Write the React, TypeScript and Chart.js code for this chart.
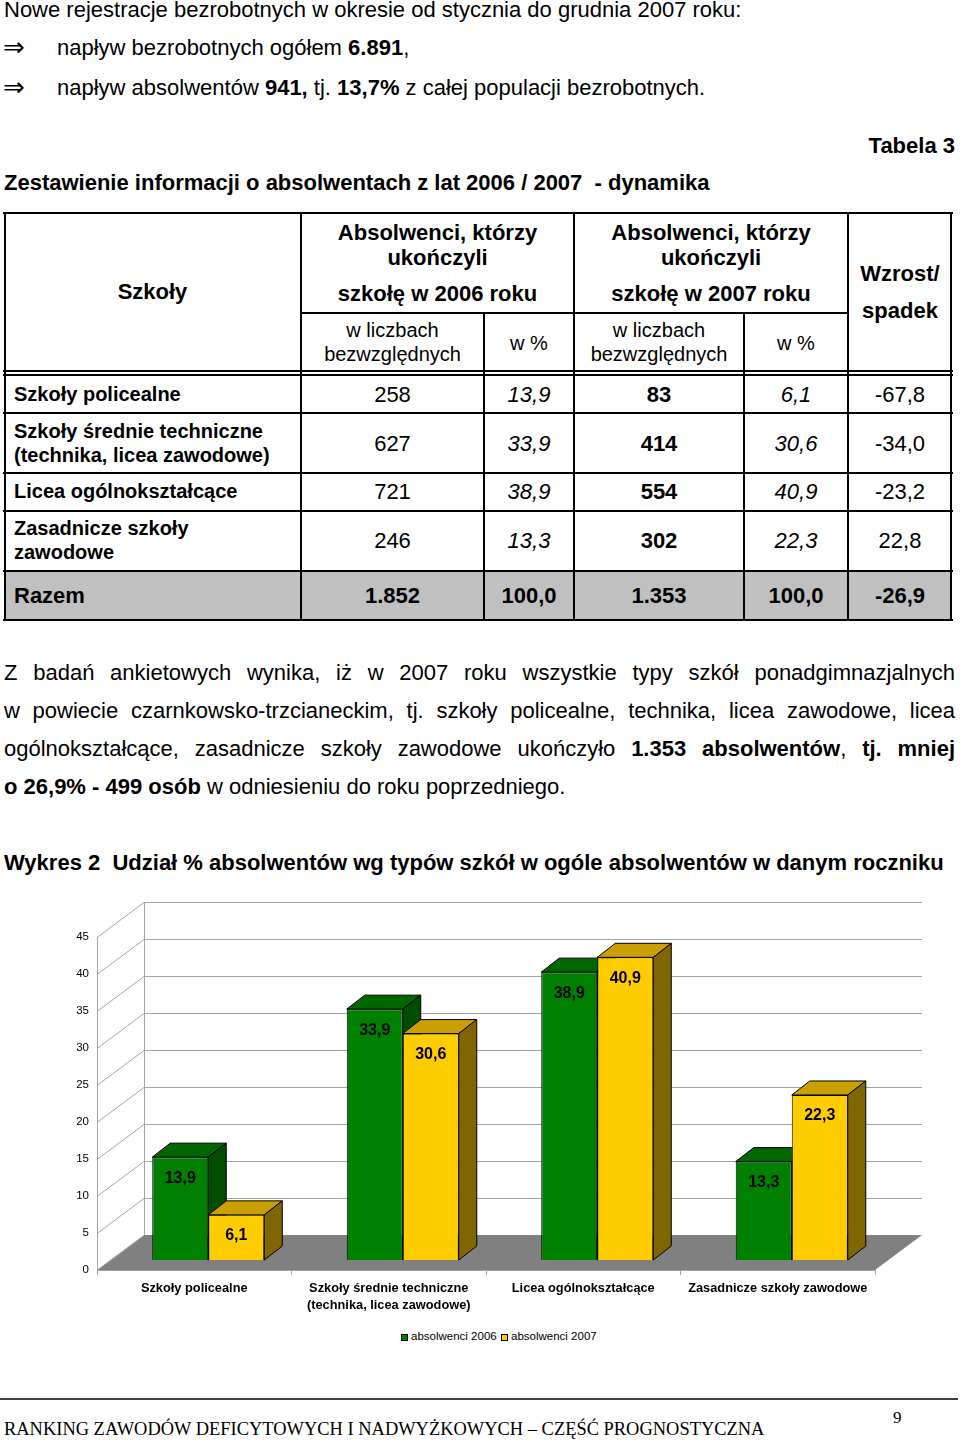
import React, { useEffect, useRef } from 'react';
import { Chart, registerables } from 'chart.js';

Chart.register(...registerables);

// ---------- chart data ----------
const categories: string[][] = [
  ['Szkoły policealne'],
  ['Szkoły średnie techniczne', '(technika, licea zawodowe)'],
  ['Licea ogólnokształcące'],
  ['Zasadnicze szkoły zawodowe'],
];
const seriesNames = ['absolwenci 2006', 'absolwenci 2007'];
const pct2006 = [13.9, 33.9, 38.9, 13.3];
const pct2007 = [6.1, 30.6, 40.9, 22.3];
const yMin = 0;
const yMax = 45;
const yStep = 5;

// ---------- table data ----------
const schoolRows: string[][] = [
  ['Szkoły policealne'],
  ['Szkoły średnie techniczne', '(technika, licea zawodowe)'],
  ['Licea ogólnokształcące'],
  ['Zasadnicze szkoły', 'zawodowe'],
];
const abs2006 = ['258', '627', '721', '246'];
const pctCol2006 = ['13,9', '33,9', '38,9', '13,3'];
const abs2007 = ['83', '414', '554', '302'];
const pctCol2007 = ['6,1', '30,6', '40,9', '22,3'];
const changeCol = ['-67,8', '-34,0', '-23,2', '22,8'];
const totalsRow = ['1.852', '100,0', '1.353', '100,0', '-26,9'];

const SANS = '"Liberation Sans", Arial, Helvetica, sans-serif';
const SERIF = '"Liberation Serif", "Times New Roman", serif';

const faceColors = [
  { front: '#008000', top: '#006600', side: '#004C00' },
  { front: '#FFCC00', top: '#C9A000', side: '#806600' },
];

// 3D geometry
const WX = 47, WY = 35; // depth of walls
const BX = 14, BY = 10; // bars' front plane shift
const DX = 18, DY = 14; // bar depth

function poly(ctx: CanvasRenderingContext2D, pts: number[][], fill: string) {
  ctx.beginPath();
  ctx.moveTo(pts[0][0], pts[0][1]);
  for (let i = 1; i < pts.length; i++) ctx.lineTo(pts[i][0], pts[i][1]);
  ctx.closePath();
  ctx.fillStyle = fill;
  ctx.fill();
  ctx.strokeStyle = '#000';
  ctx.lineWidth = 1;
  ctx.stroke();
}

const threeD = {
  id: 'threeD',
  beforeDatasetsDraw(chart: any) {
    const { ctx, chartArea: a, scales } = chart;
    const y = scales.y;
    const L = a.left, R = a.right;
    const B = y.getPixelForValue(yMin);
    const T = y.getPixelForValue(yMax);
    ctx.save();
    // floor
    ctx.fillStyle = '#808080';
    ctx.beginPath();
    ctx.moveTo(L, B);
    ctx.lineTo(R, B);
    ctx.lineTo(R + WX, B - WY);
    ctx.lineTo(L + WX, B - WY);
    ctx.closePath();
    ctx.fill();
    // grid lines on back wall + side wall diagonals
    ctx.strokeStyle = '#a4a4a4';
    ctx.lineWidth = 1;
    y.ticks.forEach((t: any) => {
      const py = Math.round(y.getPixelForValue(t.value)) + 0.5;
      ctx.beginPath();
      if (t.value > yMin) {
        ctx.moveTo(L + WX, py - WY);
        ctx.lineTo(R + WX, py - WY);
      }
      ctx.moveTo(L, py);
      ctx.lineTo(L + WX, py - WY);
      ctx.stroke();
    });
    ctx.beginPath();
    ctx.moveTo(L + 0.5, B);
    ctx.lineTo(L + 0.5, T);
    ctx.moveTo(L + WX + 0.5, B - WY);
    ctx.lineTo(L + WX + 0.5, T - WY);
    ctx.stroke();
    // bar top and side faces
    chart.data.datasets.forEach((_ds: any, i: number) => {
      const meta = chart.getDatasetMeta(i);
      const c = faceColors[i];
      meta.data.forEach((el: any) => {
        const { x, y: ty, base, width } = el.getProps(['x', 'y', 'base', 'width'], true);
        const l = x - width / 2 + BX, r = x + width / 2 + BX;
        const t = ty - BY, b = base - BY;
        poly(ctx, [[l, t], [r, t], [r + DX, t - DY], [l + DX, t - DY]], c.top);
        poly(ctx, [[r, t], [r + DX, t - DY], [r + DX, b - DY], [r, b]], c.side);
      });
    });
    ctx.restore();
  },
  beforeDatasetDraw(chart: any) {
    chart.ctx.save();
    chart.ctx.translate(BX, -BY);
  },
  afterDatasetDraw(chart: any) {
    chart.ctx.restore();
  },
  afterDatasetsDraw(chart: any) {
    const { ctx } = chart;
    ctx.save();
    ctx.font = `bold 16px ${SANS}`;
    ctx.fillStyle = '#000';
    ctx.textAlign = 'center';
    ctx.textBaseline = 'middle';
    chart.data.datasets.forEach((ds: any, i: number) => {
      const meta = chart.getDatasetMeta(i);
      meta.data.forEach((el: any, j: number) => {
        const { x, y } = el.getProps(['x', 'y'], true);
        const txt = Number(ds.data[j]).toFixed(1).replace('.', ',');
        ctx.fillText(txt, x + BX, y - BY + 21);
      });
    });
    ctx.restore();
  },
};

type TP = {
  x: number; cy: number; size: number; bold?: boolean; italic?: boolean;
  align?: 'left' | 'center' | 'right'; serif?: boolean; children: React.ReactNode;
};
function T({ x, cy, size, bold, italic, align = 'left', serif, children }: TP) {
  const style: any = {
    position: 'absolute',
    top: cy - 0.58 * size,
    fontSize: size,
    lineHeight: `${1.15 * size}px`,
    fontWeight: bold ? 'bold' : 'normal',
    fontStyle: italic ? 'italic' : 'normal',
    whiteSpace: 'pre',
    fontFamily: serif ? SERIF : SANS,
    color: '#000',
  };
  if (align === 'left') style.left = x;
  else if (align === 'center') { style.left = x; style.transform = 'translateX(-50%)'; }
  else style.right = 960 - x;
  return <div style={style}>{children}</div>;
}

function HL({ x1, x2, y, w = 2, color = '#000' }: { x1: number; x2: number; y: number; w?: number; color?: string }) {
  return <div style={{ position: 'absolute', left: x1 - 1, top: y - w / 2, width: x2 - x1 + 2, height: w, background: color }} />;
}
function VL({ x, y1, y2, w = 2 }: { x: number; y1: number; y2: number; w?: number }) {
  return <div style={{ position: 'absolute', left: x - w / 2, top: y1 - 1, width: w, height: y2 - y1 + 2, background: '#000' }} />;
}

function ParLine({ cy, justify, children }: { cy: number; justify: boolean; children: React.ReactNode }) {
  return (
    <div
      style={{
        position: 'absolute', left: 4, width: 951, top: cy - 0.58 * 22, fontSize: 22,
        lineHeight: `${1.15 * 22}px`, fontFamily: SANS, whiteSpace: 'nowrap',
        textAlign: justify ? 'justify' : 'left', textAlignLast: justify ? 'justify' : 'left',
      } as any}
    >
      {children}
    </div>
  );
}

function Arrow({ cy }: { cy: number }) {
  return (
    <div style={{ position: 'absolute', left: 3, top: cy - 16, fontSize: 26, lineHeight: '30px', fontFamily: '"DejaVu Sans", sans-serif' }}>⇒</div>
  );
}

function ChartBox() {
  const ref = useRef<HTMLCanvasElement | null>(null);
  useEffect(() => {
    const chart = new Chart(ref.current as HTMLCanvasElement, {
      type: 'bar',
      data: {
        labels: categories as any,
        datasets: [
          { label: seriesNames[0], data: pct2006, backgroundColor: faceColors[0].front, borderColor: '#000', borderWidth: 1 },
          { label: seriesNames[1], data: pct2007, backgroundColor: faceColors[1].front, borderColor: '#000', borderWidth: 1 },
        ],
      },
      options: {
        responsive: false,
        animation: false,
        devicePixelRatio: 1,
        layout: { padding: { top: 47, right: 85, left: 0, bottom: 0 } },
        datasets: { bar: { categoryPercentage: 0.576, barPercentage: 1 } } as any,
        plugins: { legend: { display: false }, tooltip: { enabled: false } },
        scales: {
          x: {
            grid: { display: true, drawOnChartArea: false, drawTicks: true, tickLength: 5, color: '#a0a0a0', offset: true },
            border: { display: true, color: '#a0a0a0' },
            ticks: {
              font: { family: SANS, size: 12.8, weight: 'bold', lineHeight: 1.33 },
              color: '#000', padding: 5, maxRotation: 0, autoSkip: false,
            },
            afterFit: (s: any) => { s.height = 50; },
          },
          y: {
            min: yMin, max: yMax,
            ticks: { stepSize: yStep, font: { family: SANS, size: 11.5 }, color: '#000', padding: 8 },
            grid: { display: false, drawTicks: false },
            border: { display: false },
            afterFit: (s: any) => { s.width = 97; },
          },
        } as any,
      },
      plugins: [threeD],
    });
    return () => chart.destroy();
  }, []);
  return (
    <canvas ref={ref} width={960} height={430}
      style={{ position: 'absolute', left: 0, top: 890, width: 960, height: 430 }} />
  );
}

export default function App() {
  const colC = [152.5, 392.5, 529, 659, 796, 900];
  const rowCy = [395, 444, 492, 541];
  const labelCy = [[395], [432, 456], [492], [529, 553]];
  const cols = [abs2006, pctCol2006, abs2007, pctCol2007, changeCol];
  const colStyle = [
    { bold: false, italic: false },
    { bold: false, italic: true },
    { bold: true, italic: false },
    { bold: false, italic: true },
    { bold: false, italic: false },
  ];
  const hRows = [413, 473, 511, 571];

  return (
    <div style={{ position: 'absolute', left: 0, top: 0, width: 960, height: 1444, overflow: 'hidden', background: '#fff', fontFamily: SANS }}>
      <T x={4} cy={10} size={22}>Nowe rejestracje bezrobotnych w okresie od stycznia do grudnia 2007 roku:</T>
      <Arrow cy={48} />
      <T x={57} cy={48} size={22}>napływ bezrobotnych ogółem <b>6.891</b>,</T>
      <Arrow cy={88} />
      <T x={57} cy={88} size={22}>napływ absolwentów <b>941,</b> tj. <b>13,7%</b> z całej populacji bezrobotnych.</T>

      <T x={955} cy={146} size={22} bold align="right">Tabela 3</T>
      <T x={4} cy={183} size={22} bold>Zestawienie informacji o absolwentach z lat 2006 / 2007  - dynamika</T>

      {/* table background */}
      <div style={{ position: 'absolute', left: 4, top: 571, width: 948, height: 49, background: '#C0C0C0' }} />
      {/* table lines */}
      <HL x1={4} x2={952} y={213} />
      <HL x1={301} x2={848} y={313} />
      <HL x1={4} x2={952} y={371} />
      <HL x1={4} x2={952} y={375} />
      {hRows.map((y) => <HL key={y} x1={4} x2={952} y={y} />)}
      <HL x1={4} x2={952} y={620} />
      <VL x={5} y1={213} y2={620} />
      <VL x={301} y1={213} y2={620} />
      <VL x={484} y1={313} y2={620} />
      <VL x={574} y1={213} y2={620} />
      <VL x={744} y1={313} y2={620} />
      <VL x={848} y1={213} y2={620} />
      <VL x={951} y1={213} y2={620} />

      {/* table header */}
      <T x={colC[0]} cy={292} size={22} bold align="center">Szkoły</T>
      {[437.5, 711].map((cx, i) => (
        <React.Fragment key={cx}>
          <T x={cx} cy={233} size={22} bold align="center">Absolwenci, którzy</T>
          <T x={cx} cy={258} size={22} bold align="center">ukończyli</T>
          <T x={cx} cy={294} size={22} bold align="center">{`szkołę w ${i === 0 ? '2006' : '2007'} roku`}</T>
        </React.Fragment>
      ))}
      <T x={colC[5]} cy={274} size={22} bold align="center">Wzrost/</T>
      <T x={colC[5]} cy={311} size={22} bold align="center">spadek</T>
      {[colC[1], colC[3]].map((cx) => (
        <React.Fragment key={cx}>
          <T x={cx} cy={331} size={20} align="center">w liczbach</T>
          <T x={cx} cy={355} size={20} align="center">bezwzględnych</T>
        </React.Fragment>
      ))}
      <T x={colC[2]} cy={344} size={20} align="center">w %</T>
      <T x={colC[4]} cy={344} size={20} align="center">w %</T>

      {/* table body */}
      {schoolRows.map((lines, r) => (
        <React.Fragment key={r}>
          {lines.map((ln, k) => <T key={k} x={14} cy={labelCy[r][k]} size={20} bold>{ln}</T>)}
          {cols.map((col, c) => (
            <T key={c} x={colC[c + 1]} cy={rowCy[r]} size={22} bold={colStyle[c].bold} italic={colStyle[c].italic} align="center">{col[r]}</T>
          ))}
        </React.Fragment>
      ))}
      <T x={14} cy={596} size={22} bold>Razem</T>
      {totalsRow.map((v, c) => (
        <T key={c} x={colC[c + 1]} cy={596} size={22} bold align="center">{v}</T>
      ))}

      {/* paragraph */}
      <ParLine cy={673} justify>Z badań ankietowych wynika, iż w 2007 roku wszystkie typy szkół ponadgimnazjalnych</ParLine>
      <ParLine cy={711} justify>w powiecie czarnkowsko-trzcianeckim, tj. szkoły policealne, technika, licea zawodowe, licea</ParLine>
      <ParLine cy={749} justify>ogólnokształcące, zasadnicze szkoły zawodowe ukończyło <b>1.353 absolwentów</b>, <b>tj. mniej</b></ParLine>
      <ParLine cy={787} justify={false}><b>o 26,9% - 499 osób</b> w odniesieniu do roku poprzedniego.</ParLine>

      <T x={4} cy={863} size={22} bold>Wykres 2  Udział % absolwentów wg typów szkół w ogóle absolwentów w danym roczniku</T>

      <ChartBox />

      {/* legend */}
      <div style={{ position: 'absolute', left: 401, top: 1334, width: 5, height: 5, background: faceColors[0].front, border: '1px solid #000' }} />
      <T x={411} cy={1337} size={11.5}>{seriesNames[0]}</T>
      <div style={{ position: 'absolute', left: 501, top: 1334, width: 5, height: 5, background: faceColors[1].front, border: '1px solid #000' }} />
      <T x={511} cy={1337} size={11.5}>{seriesNames[1]}</T>

      {/* footer */}
      <HL x1={1} x2={957} y={1399} w={2} color="#404040" />
      <T x={893} cy={1418} size={17} serif>9</T>
      <T x={4} cy={1430} size={18.45} serif>RANKING ZAWODÓW DEFICYTOWYCH I NADWYŻKOWYCH – CZĘŚĆ PROGNOSTYCZNA</T>
    </div>
  );
}
